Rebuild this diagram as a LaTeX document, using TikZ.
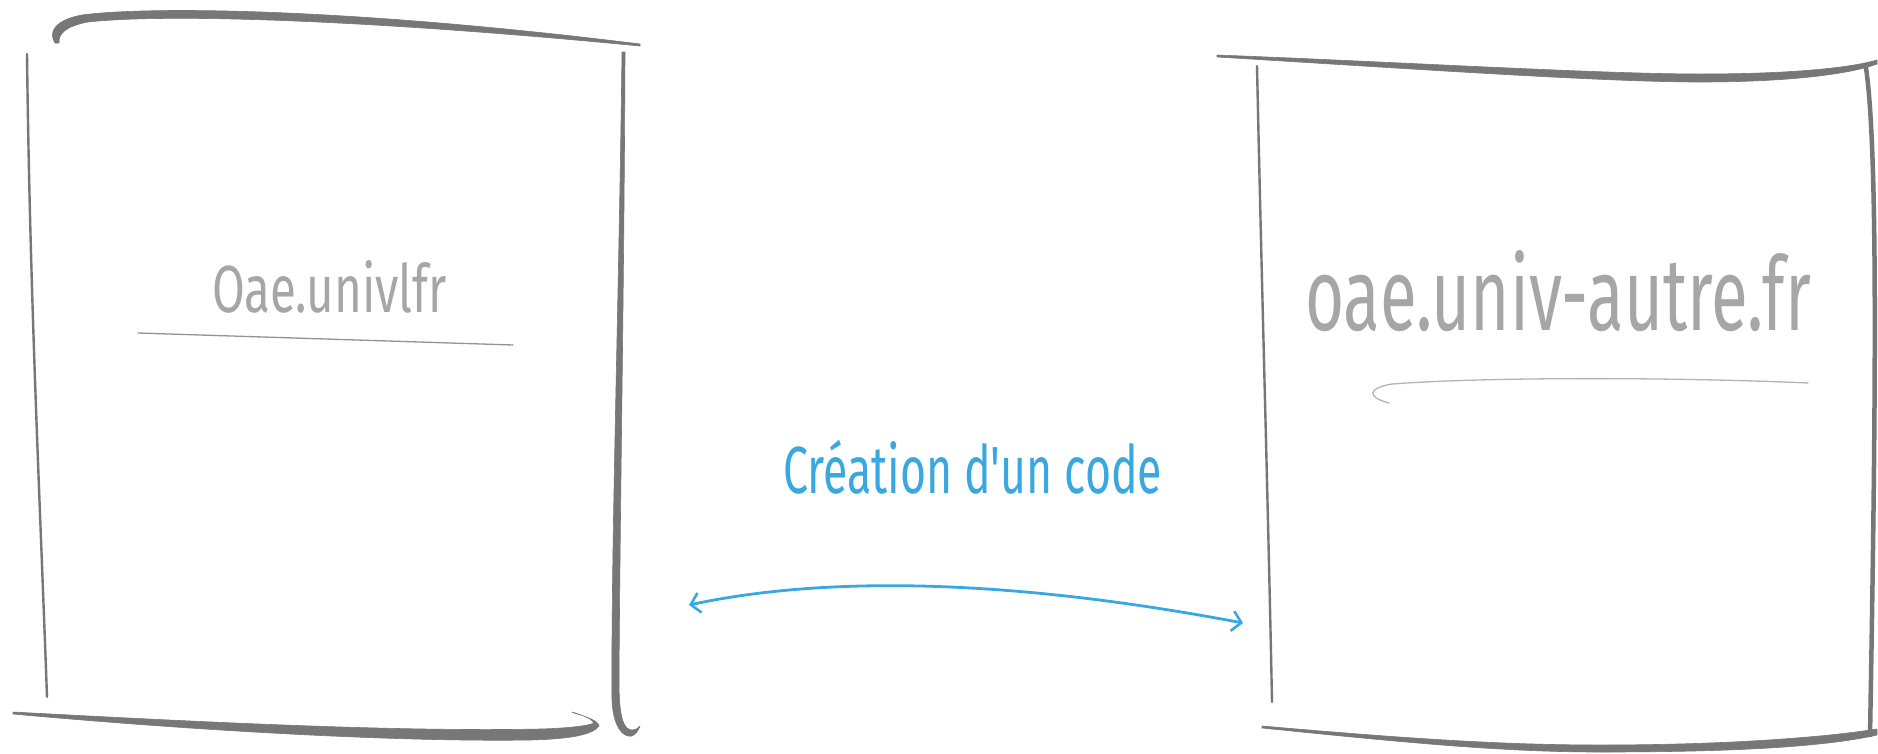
\documentclass[tikz,border=0pt]{standalone}
\usepackage{fontspec}
\usepackage{graphicx}
\setmainfont{Fira Sans}
\usetikzlibrary{arrows.meta}
\definecolor{brush}{HTML}{777777}
\definecolor{txtgray}{HTML}{A6A6A6}
\definecolor{lightline}{HTML}{B4B4B4}
\definecolor{sky}{HTML}{3AA8E0}
\tikzset{
  brushfill/.style={fill=brush, draw=brush, line width=0.6pt, line join=round},
  thinedge/.style={draw=brush, line width=2.4pt, line cap=round},
  medge/.style={draw=brush, line width=4.5pt, line cap=round},
  underline/.style={draw=lightline, line width=1.3pt, line cap=round},
  label/.style={anchor=base west, inner sep=0pt, outer sep=0pt},
  biarrow/.style={draw=sky, line width=2.8pt, line cap=round,
    {Straight Barb[length=9pt,width=20pt,line width=2.6pt]}-{Straight Barb[length=9pt,width=20pt,line width=2.6pt]}}
}
\begin{document}
\begin{tikzpicture}[x=1pt,y=-1pt]
\useasboundingbox (0,0) rectangle (1878,753);
\fill[white] (0,0) rectangle (1878,753);

% ---------- left box ----------
% top stroke with curl
\filldraw[brushfill] (55,43) .. controls (48,32) and (55,20) .. (82,15)
  .. controls (150,6) and (350,8) .. (640,44)
  -- (640,46) .. controls (350,18) and (160,14) .. (88,22)
  .. controls (66,26) and (58,34) .. (59,43) -- cycle;
% left side
\draw[thinedge] (27,54) .. controls (30,300) and (40,500) .. (47,697);
% right side with hook
\filldraw[brushfill] (622,52) .. controls (619,300) and (611,550) .. (612,700)
  .. controls (613,725) and (622,738) .. (632,736)
  .. controls (636,734) and (638,731) .. (640,726)
  .. controls (636,731) and (630,731) .. (627,728)
  .. controls (620,722) and (619,700) .. (619,680)
  .. controls (620,500) and (624,300) .. (625,52) -- cycle;
% bottom stroke with hook
\filldraw[brushfill] (13,712) .. controls (200,722) and (400,732) .. (540,729)
  .. controls (575,728) and (590,725) .. (594,723)
  .. controls (592,719) and (585,716) .. (572,712)
  -- (574,713) .. controls (588,717) and (598,721) .. (599,726)
  .. controls (592,735) and (570,739) .. (530,740)
  .. controls (400,742) and (200,731) .. (13,714) -- cycle;

% ---------- right box ----------
\filldraw[brushfill] (1217,55) .. controls (1400,62) and (1600,74) .. (1700,74)
  .. controls (1790,74) and (1850,68) .. (1877,60)
  -- (1877,64) .. controls (1850,74) and (1790,82) .. (1700,82)
  .. controls (1600,82) and (1400,68) .. (1217,57) -- cycle;
\draw[thinedge] (1257,66) .. controls (1262,300) and (1268,500) .. (1272,702);
\draw[medge] (1866,68) .. controls (1878,150) and (1876,400) .. (1870,735);
\filldraw[brushfill] (1262,726) .. controls (1400,738) and (1500,745) .. (1600,745)
  .. controls (1720,745) and (1820,738) .. (1877,729)
  -- (1877,735) .. controls (1820,748) and (1720,752) .. (1600,752)
  .. controls (1500,752) and (1400,742) .. (1262,728) -- cycle;

% ---------- texts ----------
\node[label, text=txtgray] (src) at (212,312)
  {\resizebox{235pt}{50pt}{\vphantom{l}\smash{Oae.univlfr}}};
\coordinate (u1a) at (138,333);
\coordinate (u1b) at (513,345);
\draw[underline, draw=gray!85] (u1a) -- (u1b);

\node[label, text=txtgray] (dst) at (1305,330)
  {\resizebox{506pt}{77pt}{\vphantom{f}\smash{oae.univ-autre.fr}}};
\coordinate (u2a) at (1389,403);
\coordinate (u2b) at (1808,383);
\draw[underline] (u2a) .. controls (1366,397) and (1368,388) .. (1392,384)
  .. controls (1500,376) and (1700,378) .. (u2b);

\node[label, text=sky] (lbl) at (783,493)
  {\resizebox{379pt}{50pt}{\vphantom{d}\smash{Création d\textquotesingle un code}}};

% ---------- double arrow ----------
\coordinate (aL) at (689,605);
\coordinate (aR) at (1243,623);
\draw[biarrow] (aL) .. controls (820,577) and (1000,577) .. (aR);
\end{tikzpicture}
\end{document}
